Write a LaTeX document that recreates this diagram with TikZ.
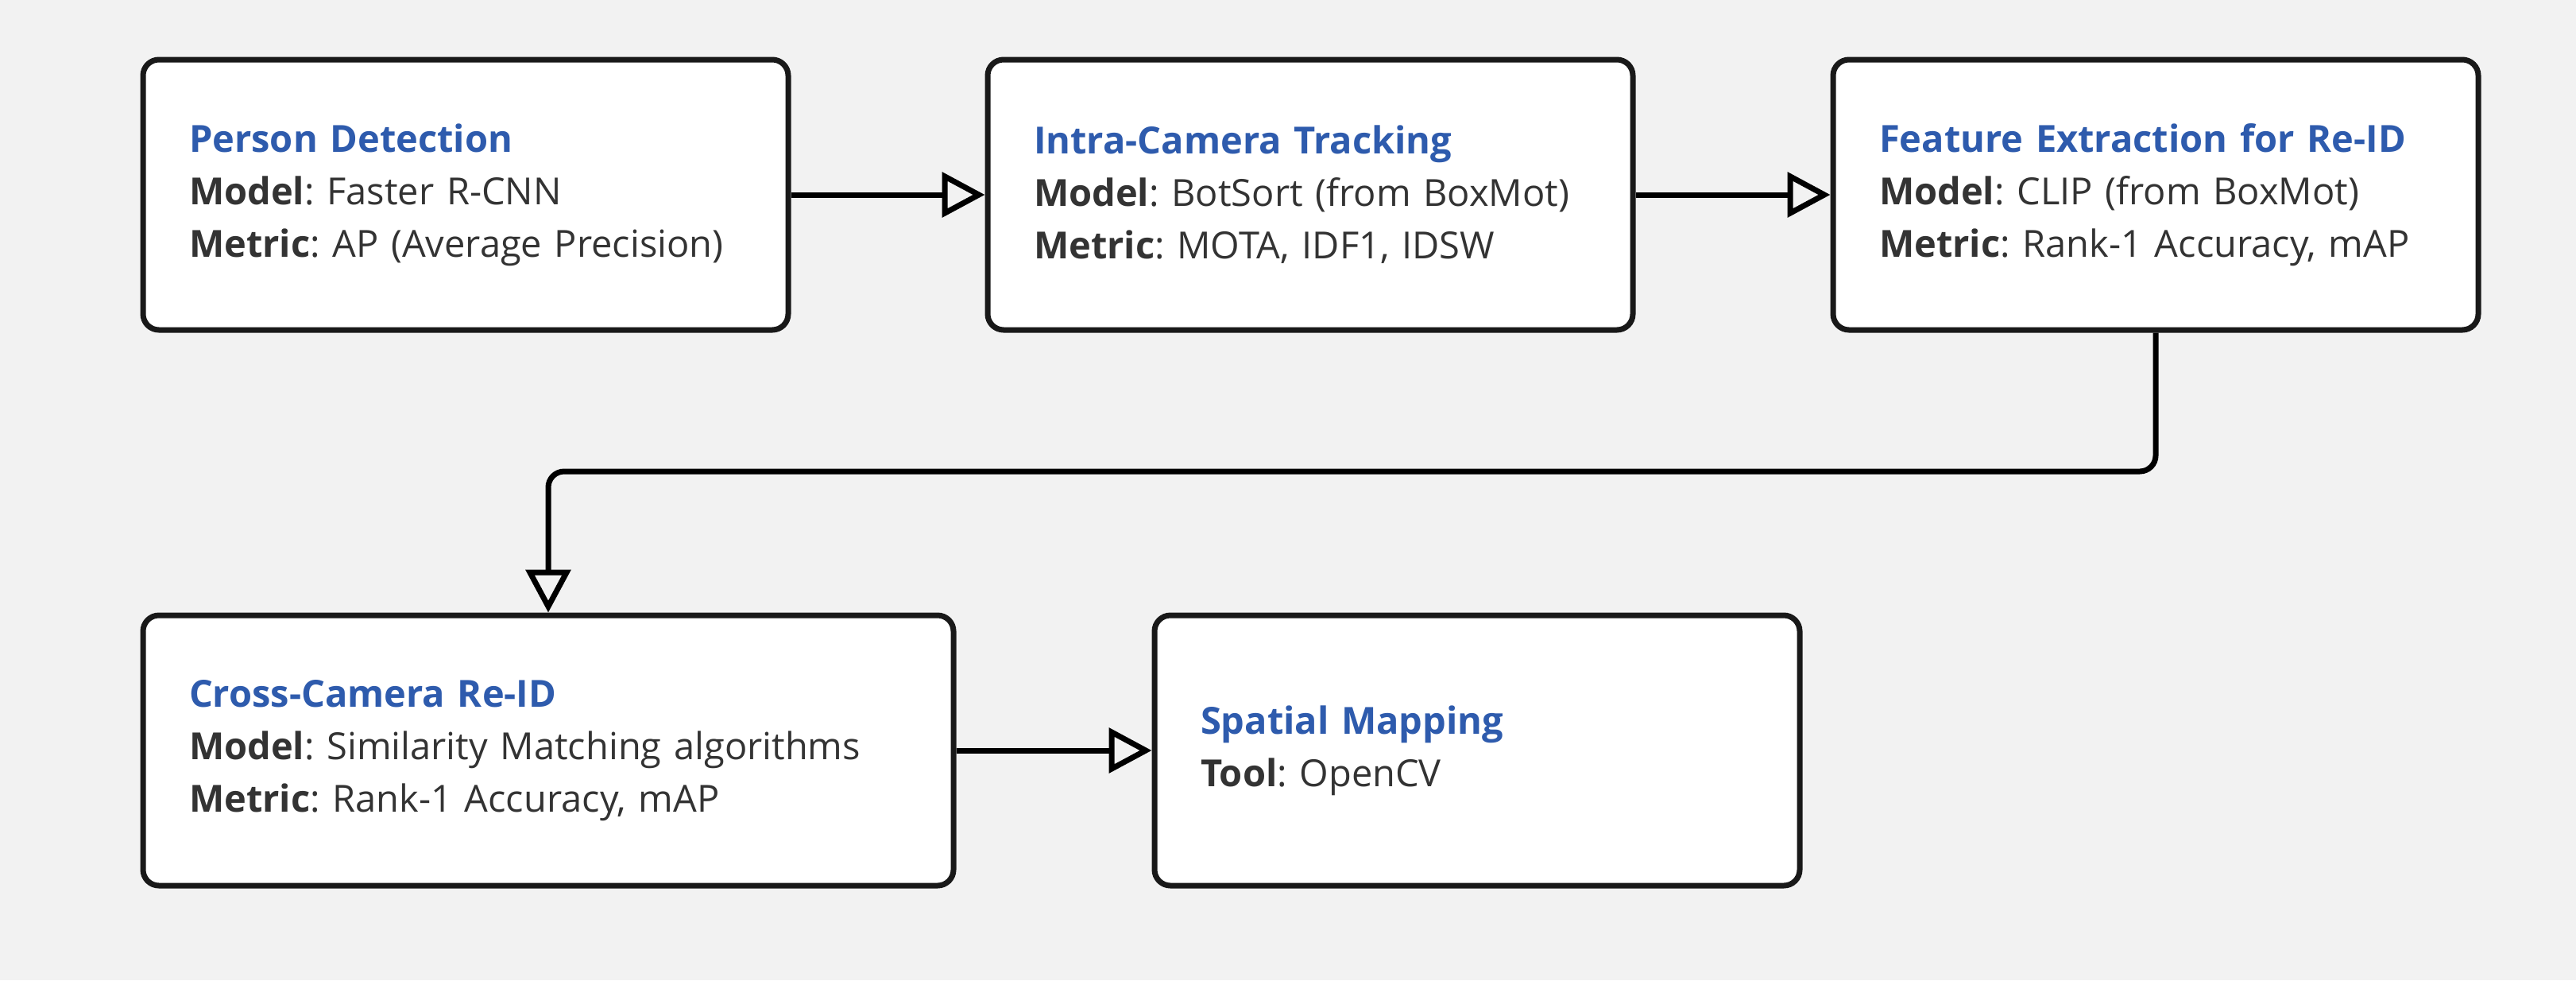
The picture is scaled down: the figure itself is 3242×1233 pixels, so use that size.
\documentclass[tikz,border=0pt]{standalone}
\usepackage{fontspec}
\setmainfont{Open Sans}
\usepackage{tikz}
\usetikzlibrary{arrows.meta}

\definecolor{pagebg}{HTML}{F2F2F2}
\definecolor{titleblue}{HTML}{2E5BAD}
\definecolor{bodytext}{HTML}{333333}

\tikzset{
	stage/.style={shape=rectangle, draw=black!90, line width=3.5pt, fill=white,
		rounded corners=10pt, minimum height=170pt, inner xsep=29pt,
		text width=#1, align=left, font=\fontsize{23.5}{33}\selectfont\frenchspacing, text=bodytext},
	flow/.style={line width=3.5pt, -{Triangle[open, length=27pt, width=28pt, line width=3.5pt]}}
}
\newcommand{\stagetitle}[1]{{\bfseries\color{titleblue}#1}\\}
\newcommand{\field}[2]{\textbf{#1}: #2}

\begin{document}
\begin{tikzpicture}[x=0.5pt, y=-0.5pt]
	\fill[pagebg] (0,0) rectangle (3242,1233);
	\useasboundingbox (0,0) rectangle (3242,1233);

	\node[stage=348pt] (det) at (586, 245) {\stagetitle{Person Detection}\field{Model}{Faster R-CNN}\\\field{Metric}{AP (Average Precision)}};
	\node[stage=348pt] (track) at (1649, 245) {\stagetitle{Intra-Camera Tracking}\field{Model}{BotSort (from BoxMot)}\\\field{Metric}{MOTA, IDF1, IDSW}};
	\node[stage=348pt] (feat) at (2713, 245) {\stagetitle{Feature Extraction for Re-ID}\field{Model}{CLIP (from BoxMot)}\\\field{Metric}{Rank-1 Accuracy, mAP}};

	\node[stage=452pt] (reid) at (690, 944) {\stagetitle{Cross-Camera Re-ID}\field{Model}{Similarity Matching algorithms}\\\field{Metric}{Rank-1 Accuracy, mAP}};
	\node[stage=348pt] (map) at (1859, 944) {\stagetitle{Spatial Mapping}\field{Tool}{OpenCV}};

	\coordinate (turn) at (1700, 593);

	\draw[flow] (det) -- (track);
	\draw[flow] (track) -- (feat);
	\draw[flow, rounded corners=10pt] (feat.south) |- (turn) -| (reid.north);
	\draw[flow] (reid) -- (map);

\end{tikzpicture}
\end{document}
